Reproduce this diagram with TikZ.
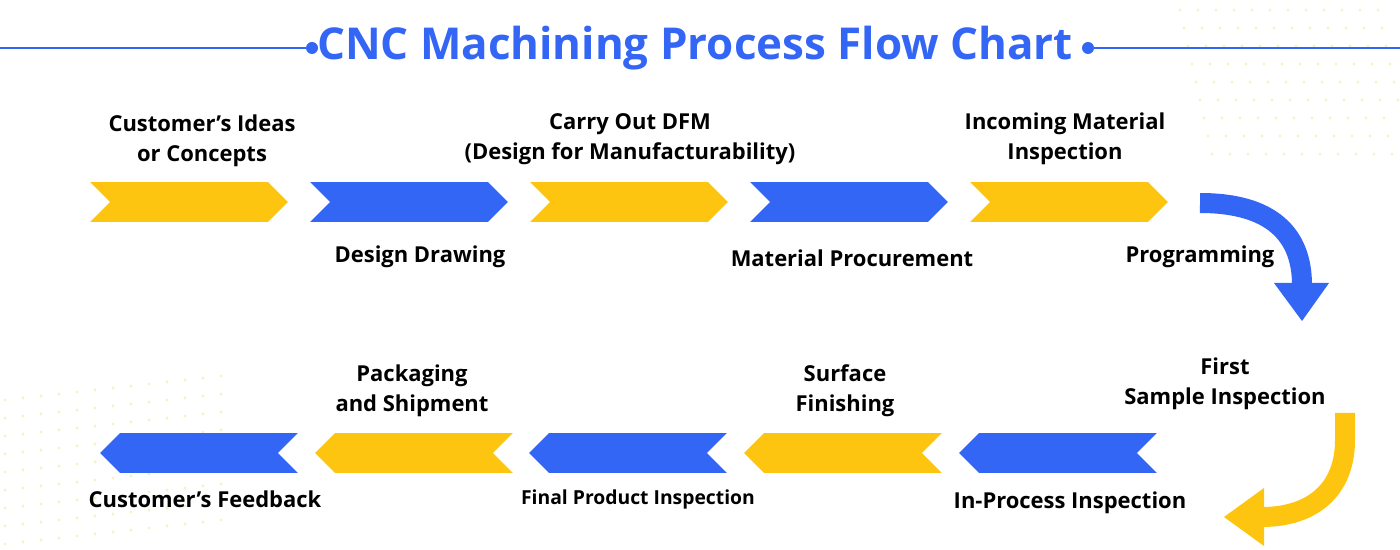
\documentclass[tikz,border=0pt]{standalone}
\usepackage{fontspec}
\setmainfont{Open Sans}
\usetikzlibrary{shapes.symbols,arrows.meta}
\definecolor{cblue}{HTML}{3366F5}
\definecolor{cyellow}{HTML}{FDC50F}
\definecolor{cdot}{HTML}{FBEFC8}

\begin{document}
\begin{tikzpicture}[x=0.02cm,y=-0.02cm,
  chev/.style={signal, draw=none, minimum width=3.96cm, minimum height=0.8cm, inner sep=0pt},
  right chev/.style={chev, signal from=west, signal to=east},
  left chev/.style={chev, signal from=east, signal to=west},
  lbl/.style={font=\bfseries\fontsize{12.5}{17}\selectfont, align=center, text=black}]
\useasboundingbox (0,0) rectangle (1400,550);
% Dots in the corners
\foreach \i in {0,...,11}
  \foreach \j in {0,...,8}
    \fill[cdot] (1180+\i*18+\j*4, 10+\j*18) circle (1.6);
\foreach \i in {0,...,12}
  \foreach \j in {0,...,8}
    \fill[cdot] (5+\i*18, 400+\j*18-\i*2) circle (1.6);

% Title
\node[font=\bfseries\fontsize{25}{30}\selectfont, text=cblue] (title) at (695,48) {CNC Machining Process Flow Chart};
\coordinate (tl) at (312,48);
\coordinate (tr) at (1088,48);
\draw[cblue, line width=0.5mm] (0,48) -- (tl);
\draw[cblue, line width=0.5mm] (tr) -- (1400,48);
\fill[cblue] (tl) circle (6);
\fill[cblue] (tr) circle (6);

% Top row
\node[right chev, fill=cyellow] (s1) at (189,202) {};
\node[right chev, fill=cblue]   (s2) at (409,202) {};
\node[right chev, fill=cyellow] (s3) at (629,202) {};
\node[right chev, fill=cblue]   (s4) at (849,202) {};
\node[right chev, fill=cyellow] (s5) at (1069,202) {};

% Bottom row
\node[left chev, fill=cblue]   (b1) at (1058,453) {};
\node[left chev, fill=cyellow] (b2) at (843,453) {};
\node[left chev, fill=cblue]   (b3) at (628,453) {};
\node[left chev, fill=cyellow] (b4) at (414,453) {};
\node[left chev, fill=cblue]   (b5) at (199,453) {};

% Curved arrows
\coordinate (a1s) at (1200,203);
\coordinate (a1e) at (1302,285);
\draw[cblue, line width=0.4cm] (a1s) .. controls (1272,203) and (1302,235) .. (a1e);
\fill[cblue] (1274,283) -- (1329,283) -- (1302,321) -- cycle;
\coordinate (a2s) at (1345,413);
\coordinate (a2e) at (1262,517);
\draw[cyellow, line width=0.4cm] (a2s) -- (1345,440) .. controls (1345,490) and (1312,517) .. (a2e);
\fill[cyellow] (1264,488) -- (1264,546) -- (1224,517) -- cycle;

% Labels
\node[lbl] (l1) at (202,141) {Customer's Ideas\\or Concepts};
\node[lbl] (l2) at (420,257) {Design Drawing};
\node[lbl] (l3) at (630,139) {Carry Out DFM\\(Design for Manufacturability)};
\node[lbl] (l4) at (852,258) {Material Procurement};
\node[lbl] (l5) at (1065,139) {Incoming Material\\Inspection};
\node[lbl] (l6) at (1200,257) {Programming};
\node[lbl] (l7) at (1225,384) {First\\Sample Inspection};
\node[lbl] (l8) at (1070,503) {In-Process Inspection};
\node[lbl] (l9) at (845,391) {Surface\\Finishing};
\node[lbl, font=\bfseries\fontsize{11}{15}\selectfont] (l10) at (638,499) {Final Product Inspection};
\node[lbl] (l11) at (412,391) {Packaging\\and Shipment};
\node[lbl] (l12) at (205,499) {Customer's Feedback};
\end{tikzpicture}
\end{document}
